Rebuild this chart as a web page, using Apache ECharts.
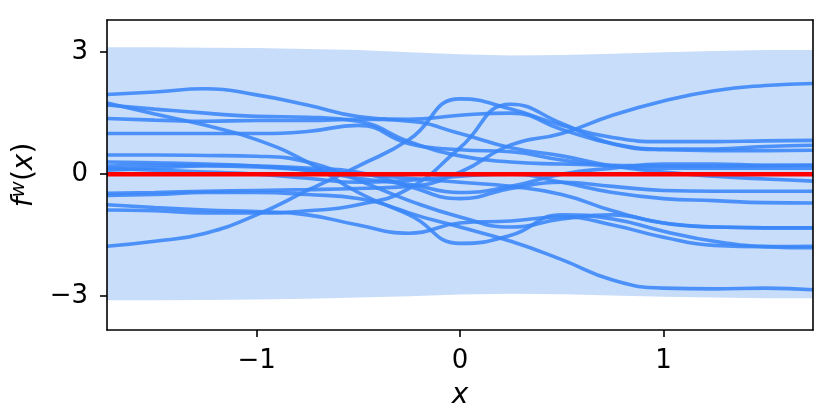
<!DOCTYPE html>
<html>
<head>
<meta charset="utf-8">
<script src="https://cdn.jsdelivr.net/npm/echarts@6/dist/echarts.min.js"></script>
<style>
  html, body { margin: 0; padding: 0; background: #fff; }
  #chart { width: 830px; height: 415px; }
</style>
</head>
<body>
<div id="chart"></div>
<script>
// sample positions along x
const xs = [-1.735, -1.5, -1.25, -1, -0.75, -0.5, -0.25, 0, 0.25, 0.5, 0.75, 1, 1.25, 1.5, 1.735]

// confidence band (+/- 2 sigma)
const bandUpper = [3.12, 3.12, 3.11, 3.1, 3.08, 3.05, 3.0, 2.95, 2.92, 2.93, 2.96, 3.0, 3.03, 3.05, 3.05]
const bandLower = [-3.1, -3.1, -3.09, -3.08, -3.06, -3.03, -3.0, -2.96, -2.94, -2.95, -2.98, -3.01, -3.03, -3.05, -3.05]

// prior mean
const meanLine = [0, 0, 0, 0, 0, 0, 0, 0, 0, 0, 0, 0, 0, 0, 0]

// sampled functions
const samples = [
  [1.96, 2.02, 2.1, 1.95, 1.7, 1.42, 1.35, 1.45, 1.5, 1.1, 0.75, 0.62, 0.62, 0.68, 0.71],
  [1.75, 1.48, 1.2, 0.85, 0.3, -0.45, -0.95, -1.3, -1.65, -2.1, -2.6, -2.8, -2.82, -2.8, -2.84],
  [1.70, 1.6, 1.5, 1.42, 1.4, 1.3, 0.8, 0.45, 0.3, 0.25, 0.22, 0.2, 0.2, 0.21, 0.22],
  [-0.47, -0.45, -0.42, -0.4, -0.38, -0.35, -0.3, 0.05, 0.72, 1.0, 1.45, 1.8, 2.05, 2.18, 2.23],
  [-1.77, -1.65, -1.45, -1.0, -0.4, 0.2, 0.85, 1.85, 1.6, 1.2, 0.9, 0.8, 0.8, 0.82, 0.83],
  [-0.88, -0.9, -0.95, -0.95, -0.9, -0.75, -0.35, 0.65, 1.72, 1.25, 0.75, 0.6, 0.58, 0.58, 0.59],
  [1.37, 1.33, 1.3, 1.32, 1.32, 1.35, 1.3, 1.0, 0.65, 0.45, 0.2, 0.05, -0.05, -0.12, -0.17],
  [1.0, 1.0, 1.0, 1.0, 1.05, 1.2, 0.75, 0.6, 0.55, 0.35, 0.2, 0.15, 0.15, 0.15, 0.15],
  [0.47, 0.47, 0.46, 0.44, 0.3, -0.15, -0.65, -1.05, -1.3, -1.1, -1.0, -1.2, -1.3, -1.32, -1.32],
  [0.3, 0.28, 0.25, 0.2, 0.1, -0.1, -0.25, -0.45, -0.3, 0.0, 0.15, 0.25, 0.25, 0.22, 0.22],
  [0.2, 0.22, 0.22, 0.2, 0.15, 0.05, -0.3, -0.6, -0.35, -0.2, -0.3, -0.4, -0.42, -0.42, -0.42],
  [0.1, 0.15, 0.2, 0.18, 0.1, 0.0, -0.1, -0.2, -0.3, -0.5, -0.9, -1.2, -1.3, -1.32, -1.32],
  [-0.52, -0.5, -0.45, -0.45, -0.5, -0.6, -1.0, -1.7, -1.5, -1.0, -1.1, -1.4, -1.65, -1.78, -1.81],
  [-0.75, -0.82, -0.88, -0.92, -1.0, -1.25, -1.45, -1.2, -1.15, -1.05, -1.25, -1.55, -1.75, -1.78, -1.77],
  [0.15, 0.1, 0.05, 0.0, -0.1, -0.2, -0.15, -0.05, 0.0, -0.2, -0.45, -0.6, -0.65, -0.7, -0.71]
]

const xTicks = [-1, 0, 1]
const yTicks = [-3, 0, 3]

const FONT = 'DejaVu Sans'
const pair = (ys) => xs.map((x, i) => [x, ys[i]])
const fmt = (v) => (v < 0 ? '\u2212' + Math.abs(v) : String(v))

const chart = echarts.init(document.getElementById('chart'), null, { renderer: 'canvas' })

const series = [
  {
    // shaded band: upper edge forward, lower edge back
    name: 'band',
    type: 'custom',
    data: [0],
    silent: true,
    z: 1,
    renderItem: (params, api) => {
      const pts = xs.map((x, i) => api.coord([x, bandUpper[i]]))
      for (let i = xs.length - 1; i >= 0; i--) pts.push(api.coord([xs[i], bandLower[i]]))
      return {
        type: 'polygon',
        shape: { points: pts },
        style: { fill: '#c8ddfa' }
      }
    }
  }
]

samples.forEach((s, k) => {
  series.push({
    name: 'sample' + k,
    type: 'line',
    data: pair(s),
    symbol: 'none',
    smooth: 0.5,
    lineStyle: { color: '#3a86f8', width: 3.6, opacity: 0.88 },
    z: 2
  })
})

series.push({
  name: 'mean',
  type: 'line',
  data: pair(meanLine),
  symbol: 'none',
  lineStyle: { color: '#ff0000', width: 4.5 },
  z: 3
})

const frameAxis = {
  show: true,
  axisLine: { show: true, onZero: false, lineStyle: { color: '#000', width: 1.6 } },
  axisTick: { show: false },
  axisLabel: { show: false },
  splitLine: { show: false }
}

const option = {
  animation: false,
  backgroundColor: '#fff',
  grid: { left: 107, right: 17, top: 20, bottom: 83 },
  xAxis: [{
    type: 'value',
    min: -1.735, max: 1.735,
    name: 'x',
    nameLocation: 'middle',
    nameGap: 52,
    nameTextStyle: { fontFamily: FONT, fontSize: 28, fontStyle: 'italic', color: '#000' },
    splitLine: { show: false },
    axisLine: { show: true, onZero: false, lineStyle: { color: '#000', width: 1.6 } },
    axisTick: { show: true, length: 7, customValues: xTicks, lineStyle: { color: '#000', width: 1.6 } },
    axisLabel: {
      customValues: xTicks, formatter: fmt, margin: 18,
      fontFamily: FONT, fontSize: 26, color: '#000'
    },
    z: 10
  }, Object.assign({ type: 'value', position: 'top', min: -1.735, max: 1.735, z: 10 }, frameAxis)],
  yAxis: [{
    type: 'value',
    min: -3.83, max: 3.79,
    name: '{i|f}{s|w}{n|(}{i|x}{n|)}',
    nameLocation: 'middle',
    nameGap: 66,
    nameRotate: 90,
    nameTextStyle: {
      fontFamily: FONT, fontSize: 28, color: '#000',
      rich: {
        i: { fontFamily: FONT, fontSize: 28, fontStyle: 'italic', color: '#000' },
        n: { fontFamily: FONT, fontSize: 28, color: '#000' },
        s: { fontFamily: FONT, fontSize: 20, fontStyle: 'italic', color: '#000', verticalAlign: 'top', padding: [0, 0, 11, 0] }
      }
    },
    splitLine: { show: false },
    axisLine: { show: true, onZero: false, lineStyle: { color: '#000', width: 1.6 } },
    axisTick: { show: true, length: 7, customValues: yTicks, lineStyle: { color: '#000', width: 1.6 } },
    axisLabel: {
      customValues: yTicks, formatter: fmt, margin: 19,
      fontFamily: FONT, fontSize: 26, color: '#000'
    },
    z: 10
  }, Object.assign({ type: 'value', position: 'right', min: -3.83, max: 3.79, z: 10 }, frameAxis)],
  series: series
}

chart.setOption(option)
</script>
</body>
</html>
